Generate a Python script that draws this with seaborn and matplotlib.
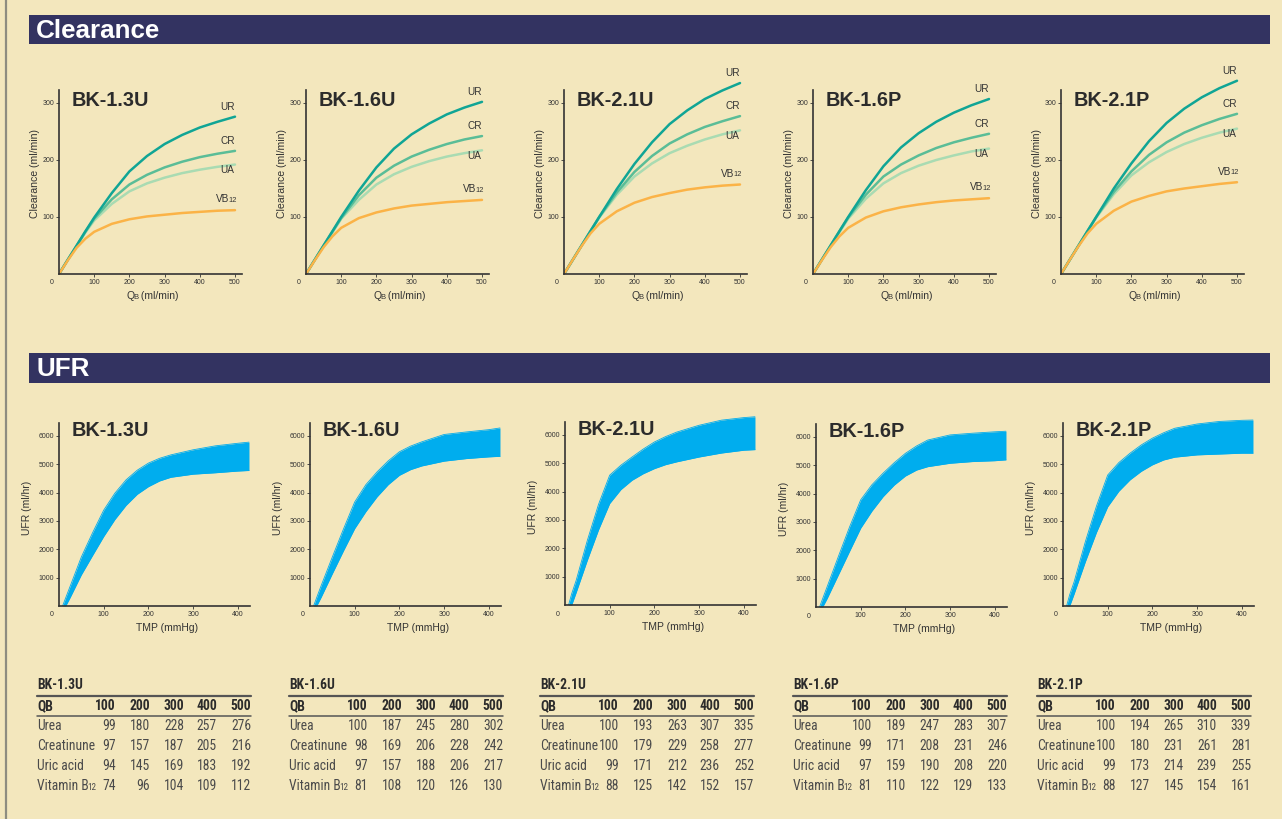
import matplotlib
matplotlib.use("Agg")
import matplotlib.pyplot as plt
import seaborn as sns
import pandas as pd
from matplotlib import font_manager as fm
from matplotlib.lines import Line2D
from matplotlib.patches import Rectangle

# ------------------------------------------------------------------ data
MODELS = ["BK-1.3U", "BK-1.6U", "BK-2.1U", "BK-1.6P", "BK-2.1P"]

# Clearance curves (ml/min) vs blood flow QB (ml/min)
QB = [0, 25, 50, 75, 100, 150, 200, 250, 300, 350, 400, 450, 500]
QB_TABLE = [100, 200, 300, 400, 500]

UR_13U = [0, 25, 50, 75, 99, 142, 180, 207, 228, 244, 257, 267, 276]
CR_13U = [0, 25, 49, 74, 97, 131, 157, 174, 187, 197, 205, 211, 216]
UA_13U = [0, 25, 49, 73, 94, 123, 145, 159, 169, 177, 183, 188, 192]
VB_13U = [0, 24, 46, 62, 74, 88, 96, 101, 104, 107, 109, 111, 112]

UR_16U = [0, 25, 50, 75, 100, 146, 187, 220, 245, 264, 280, 292, 302]
CR_16U = [0, 25, 50, 74, 98, 138, 169, 190, 206, 218, 228, 236, 242]
UA_16U = [0, 25, 49, 73, 97, 130, 157, 175, 188, 198, 206, 212, 217]
VB_16U = [0, 24, 47, 66, 81, 98, 108, 115, 120, 123, 126, 128, 130]

UR_21U = [0, 25, 50, 75, 100, 149, 193, 231, 263, 287, 307, 322, 335]
CR_21U = [0, 25, 50, 75, 100, 143, 179, 207, 229, 245, 258, 268, 277]
UA_21U = [0, 25, 50, 75, 99, 139, 171, 194, 212, 225, 236, 245, 252]
VB_21U = [0, 25, 49, 71, 88, 110, 125, 135, 142, 148, 152, 155, 157]

UR_16P = [0, 25, 50, 75, 100, 147, 189, 222, 247, 267, 283, 296, 307]
CR_16P = [0, 25, 50, 75, 99, 139, 171, 192, 208, 221, 231, 239, 246]
UA_16P = [0, 25, 49, 73, 97, 132, 159, 177, 190, 200, 208, 215, 220]
VB_16P = [0, 24, 47, 66, 81, 99, 110, 117, 122, 126, 129, 131, 133]

UR_21P = [0, 25, 50, 75, 100, 150, 194, 233, 265, 290, 310, 326, 339]
CR_21P = [0, 25, 50, 75, 100, 144, 180, 209, 231, 248, 261, 272, 281]
UA_21P = [0, 25, 50, 75, 99, 140, 173, 196, 214, 228, 239, 248, 255]
VB_21P = [0, 25, 49, 71, 88, 111, 127, 137, 145, 150, 154, 158, 161]

UR_ALL = [UR_13U, UR_16U, UR_21U, UR_16P, UR_21P]
CR_ALL = [CR_13U, CR_16U, CR_21U, CR_16P, CR_21P]
UA_ALL = [UA_13U, UA_16U, UA_21U, UA_16P, UA_21P]
VB_ALL = [VB_13U, VB_16U, VB_21U, VB_16P, VB_21P]

SOLUTE_ROWS = ["Urea", "Creatinune", "Uric acid", "Vitamin B"]

# UFR band (ml/hr) vs TMP (mmHg): upper and lower edges
TMP = [8, 15, 25, 50, 75, 100, 125, 150, 175, 200, 225, 250, 300, 350, 400, 425]
UFR_HI_13U = [0, 290, 700, 1730, 2580, 3380, 3980, 4450, 4790, 5040, 5210, 5330, 5510, 5650, 5740, 5780]
UFR_LO_13U = [0, 0, 300, 1100, 1780, 2450, 3050, 3550, 3940, 4210, 4410, 4540, 4650, 4700, 4760, 4780]
UFR_HI_16U = [0, 300, 720, 1730, 2720, 3670, 4280, 4730, 5120, 5440, 5640, 5790, 6050, 6140, 6220, 6280]
UFR_LO_16U = [0, 0, 310, 1140, 1950, 2730, 3330, 3850, 4280, 4610, 4810, 4940, 5110, 5200, 5260, 5280]
UFR_HI_21U = [0, 400, 870, 2280, 3550, 4580, 4930, 5220, 5500, 5750, 5940, 6100, 6340, 6520, 6610, 6640]
UFR_LO_21U = [0, 0, 440, 1580, 2650, 3580, 4070, 4400, 4630, 4810, 4950, 5050, 5220, 5360, 5460, 5480]
UFR_HI_16P = [0, 300, 720, 1780, 2820, 3780, 4310, 4720, 5090, 5420, 5680, 5890, 6070, 6130, 6180, 6200]
UFR_LO_16P = [0, 0, 300, 1130, 1960, 2780, 3380, 3890, 4300, 4620, 4830, 4950, 5070, 5130, 5160, 5190]
UFR_HI_21P = [0, 400, 860, 2270, 3530, 4620, 5060, 5390, 5680, 5920, 6110, 6270, 6420, 6510, 6550, 6560]
UFR_LO_21P = [0, 0, 430, 1560, 2600, 3500, 4050, 4450, 4750, 4980, 5150, 5250, 5330, 5360, 5390, 5390]
UFR_HI_ALL = [UFR_HI_13U, UFR_HI_16U, UFR_HI_21U, UFR_HI_16P, UFR_HI_21P]
UFR_LO_ALL = [UFR_LO_13U, UFR_LO_16U, UFR_LO_21U, UFR_LO_16P, UFR_LO_21P]

CLR_YTICKS = [100, 200, 300]
CLR_XTICKS = [100, 200, 300, 400, 500]
UFR_YTICKS = [1000, 2000, 3000, 4000, 5000, 6000]
UFR_XTICKS = [100, 200, 300, 400]

# ------------------------------------------------------------------ style
BG = "#F3E7BD"
NAVY = "#333361"
C_UR = "#10A595"
C_CR = "#5ABD97"
C_UA = "#A9DBB2"
C_VB = "#FBB347"
C_BAND = "#00ADEE"
INK = "#2B2B2B"
GREY = "#4A4A4A"
AXC = "#333333"

sns.set_theme(style="ticks")
plt.rcParams["font.family"] = ["Liberation Sans", "DejaVu Sans"]
plt.rcParams["axes.facecolor"] = BG
plt.rcParams["figure.facecolor"] = BG

names = {f.name for f in fm.fontManager.ttflist}
if "Liberation Sans Narrow" in names:
    TFONT, TSIZE, TTSIZE, TSUB = "Liberation Sans Narrow", 10.0, 9.8, 6.8
elif "Roboto Condensed" in names:
    TFONT, TSIZE, TTSIZE, TSUB = "Roboto Condensed", 9.8, 9.8, 6.6
else:
    TFONT, TSIZE, TTSIZE, TSUB = "Liberation Sans", 8.4, 8.4, 5.8

W, H = 1282, 819
fig = plt.figure(figsize=(W / 100, H / 100), dpi=100, facecolor=BG)
bg = fig.add_axes([0, 0, 1, 1], zorder=-5)
bg.axis("off")


def fx(px):
    return px / W


def fy(py):
    return 1 - py / H


def suffix(ax, base, s, size, dx=-0.9, dy=0.4, **kw):
    """Small text set on (about) the baseline right after another text."""
    return ax.annotate(s, xy=(1, 0), xycoords=base, xytext=(dx, dy),
                       textcoords="offset points", ha="left", va="bottom",
                       fontsize=size, **kw)


# page border on left
fig.add_artist(Line2D([fx(6), fx(6)], [0, 1], color="#8E8D80", lw=1.6))

# section header bars
for label, top, bot in [("Clearance", 15, 44), ("UFR", 353, 383)]:
    fig.add_artist(Rectangle((fx(29), fy(bot)), fx(1270) - fx(29), fy(top) - fy(bot),
                             transform=fig.transFigure, color=NAVY, lw=0))
    fig.text(fx(36), fy((top + bot) / 2 + 1), label, color="white",
             fontsize=18.7, fontweight="bold", va="center", ha="left")


def style_axis(ax, ytop, xticks, yticks):
    for s in ["top", "right"]:
        ax.spines[s].set_visible(False)
    ax.spines["left"].set_bounds(0, ytop)
    for s in ["left", "bottom"]:
        ax.spines[s].set_color(AXC)
        ax.spines[s].set_linewidth(1.2)
    ax.set_xticks(xticks)
    ax.set_yticks(yticks)
    ax.tick_params(axis="both", labelsize=5, length=2, width=0.6, pad=1.5,
                   colors=AXC, direction="out")
    ax.set_xlabel("")
    ax.set_ylabel("")
    ax.grid(False)
    ax.annotate("0", xy=(0, 0), xycoords="axes fraction", xytext=(-7, -9),
                textcoords="offset pixels", ha="center", va="center",
                fontsize=5, color=AXC)


# ------------------------------------------------------------------ clearance charts
CLR_X0 = [59, 306, 564, 813, 1061]
CLR_Y0 = 274
CLR_XMAX, CLR_YMAX = 520, 345
CLR_W, CLR_H = CLR_XMAX * 0.352, CLR_YMAX * 0.57
LABEL_DY = {"UR": 9, "CR": 9, "UA": -19, "VB12": 10}
COLORS = {"UR": C_UR, "CR": C_CR, "UA": C_UA, "VB12": C_VB}

for i, m in enumerate(MODELS):
    ax = fig.add_axes([fx(CLR_X0[i]), fy(CLR_Y0), CLR_W / W, CLR_H / H])
    series = {"UR": UR_ALL[i], "CR": CR_ALL[i], "UA": UA_ALL[i], "VB12": VB_ALL[i]}
    order = ["UA", "CR", "UR", "VB12"]
    df = pd.DataFrame({"QB": QB * 4,
                       "clr": sum((series[k] for k in order), []),
                       "sol": sum(([k] * len(QB) for k in order), [])})
    for key in order:
        sub = df[df["sol"] == key]
        sns.lineplot(data=sub, x="QB", y="clr", ax=ax, color=COLORS[key],
                     lw=1.8, estimator=None, legend=False)
        ylab = series[key][-1] + LABEL_DY[key]
        if key == "VB12":
            t = ax.text(484, ylab, "VB", fontsize=7.2, color=AXC, ha="right", va="bottom")
            suffix(ax, t, "12", 5.4, dx=-1.0, dy=0.3, color=AXC)
        else:
            ax.text(478, ylab, key, fontsize=7.2, color=AXC, ha="center", va="bottom")
    ax.set_xlim(0, CLR_XMAX)
    ax.set_ylim(0, CLR_YMAX)
    style_axis(ax, 322, CLR_XTICKS, CLR_YTICKS)
    tq = ax.text(0.37, -0.112, "Q", transform=ax.transAxes,
                 fontsize=7.5, color=AXC, ha="left", va="center")
    tb = suffix(ax, tq, "B", 5.5, dx=-0.8, dy=0.2, color=AXC)
    ax.annotate(" (ml/min)", xy=(1, 0), xycoords=tb, xytext=(-0.3, -0.2),
                textcoords="offset points", ha="left", va="bottom",
                fontsize=7.5, color=AXC)
    ax.text(-0.13, 0.51, "Clearance (ml/min)", transform=ax.transAxes, rotation=90,
            fontsize=7.6, color=AXC, ha="center", va="center")
    ax.annotate(m, xy=(0, 1), xycoords="axes fraction", xytext=(13, -23),
                textcoords="offset pixels", fontsize=14.3, fontweight="bold",
                color=INK, ha="left", va="center")

# ------------------------------------------------------------------ UFR charts
UFR_X0 = [59, 310, 565, 816, 1063]
UFR_Y0 = [606, 606, 605, 607, 606]
UFR_XMAX, UFR_YMAX = 428, 6700
UFR_W, UFR_H = UFR_XMAX * 0.447, UFR_YMAX * 0.02835

for i, m in enumerate(MODELS):
    ax = fig.add_axes([fx(UFR_X0[i]), fy(UFR_Y0[i]), UFR_W / W, UFR_H / H])
    ax.fill_between(TMP, UFR_LO_ALL[i], UFR_HI_ALL[i], color=C_BAND, lw=0)
    sns.lineplot(x=TMP, y=UFR_HI_ALL[i], ax=ax, color=C_BAND, lw=0.6, estimator=None)
    sns.lineplot(x=TMP, y=UFR_LO_ALL[i], ax=ax, color=C_BAND, lw=0.6, estimator=None)
    ax.set_xlim(0, UFR_XMAX)
    ax.set_ylim(0, UFR_YMAX)
    style_axis(ax, 6450, UFR_XTICKS, UFR_YTICKS)
    ax.text(0.567, -0.116, "TMP (mmHg)", transform=ax.transAxes,
            fontsize=7.5, color=AXC, ha="center", va="center")
    ax.text(-0.165, 0.516, "UFR (ml/hr)", transform=ax.transAxes, rotation=90,
            fontsize=7.5, color=AXC, ha="center", va="center")
    ax.annotate(m, xy=(0, 1), xycoords="axes fraction", xytext=(13, -14),
                textcoords="offset pixels", fontsize=14.3, fontweight="bold",
                color=INK, ha="left", va="center")

# ------------------------------------------------------------------ tables
TABLE_LEFT = [37, 289, 540, 793, 1037]
COL_OFF = [79, 113, 147, 180, 214]
ROW_Y = [726, 746, 766, 786]
IDX = [QB.index(q) for q in QB_TABLE]

for i, m in enumerate(MODELS):
    L = TABLE_LEFT[i]
    bg.text(fx(L), fy(685), m, fontsize=TTSIZE, fontweight="bold", family=TFONT,
            color=INK, ha="left", va="center", transform=fig.transFigure)
    fig.add_artist(Line2D([fx(L), fx(L + 214)], [fy(696)] * 2, lw=1.6, color="#555555"))
    fig.add_artist(Line2D([fx(L), fx(L + 214)], [fy(716)] * 2, lw=1.1, color="#555555"))
    bg.text(fx(L), fy(706), "QB", fontsize=TSIZE, fontweight="bold", family=TFONT,
            color=INK, ha="left", va="center", transform=fig.transFigure)
    for q, off in zip(QB_TABLE, COL_OFF):
        bg.text(fx(L + off), fy(706), str(q), fontsize=TSIZE, fontweight="bold",
                family=TFONT, color=INK, ha="right", va="center",
                transform=fig.transFigure)
    rows = [UR_ALL[i], CR_ALL[i], UA_ALL[i], VB_ALL[i]]
    for r, (lab, vals) in enumerate(zip(SOLUTE_ROWS, rows)):
        t = bg.text(fx(L), fy(ROW_Y[r]), lab, fontsize=TSIZE, family=TFONT,
                    color=GREY, ha="left", va="center", transform=fig.transFigure)
        if lab == "Vitamin B":
            suffix(bg, t, "12", TSUB, dx=-1.3, dy=0.5, family=TFONT, color=GREY)
        for k, off in zip(IDX, COL_OFF):
            bg.text(fx(L + off), fy(ROW_Y[r]), str(vals[k]), fontsize=TSIZE,
                    family=TFONT, color=GREY, ha="right", va="center",
                    transform=fig.transFigure)

fig.savefig("out.png", dpi=100, facecolor=BG)
